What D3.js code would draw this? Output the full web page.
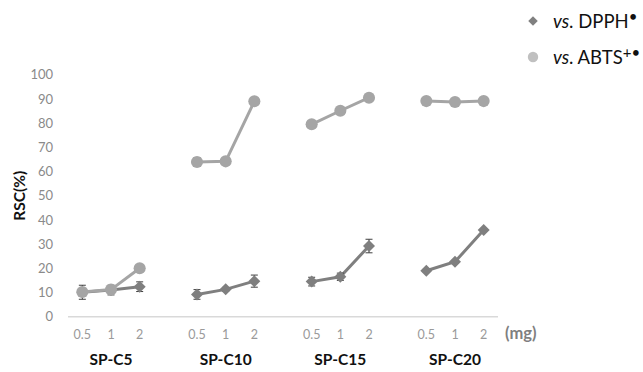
<!DOCTYPE html>
<html>
<head>
<meta charset="utf-8">
<script src="https://cdn.jsdelivr.net/npm/d3@7"></script>
<style>
  body { margin: 0; background: #fff; }
  svg { display: block; font-family: Lato, "Open Sans", sans-serif; }
</style>
</head>
<body>
<svg id="chart" width="643" height="372"></svg>
<script>
// groups and doses along the x axis
const groups = ["SP-C5", "SP-C10", "SP-C15", "SP-C20"];
const doses = ["0.5", "1", "2"];
const yTicks = [0, 10, 20, 30, 40, 50, 60, 70, 80, 90, 100];

// RSC (%) per group, per dose
const dpph = [[10.1, 11.0, 12.4], [9.2, 11.3, 14.7], [14.5, 16.5, 29.2], [19.0, 22.7, 35.8]];
const dpphErr = [[2.9, 2.0, 2.0], [2.0, 0.8, 2.5], [1.8, 1.5, 2.8], [0.6, 0.6, 0.6]];
const abts = [[10.2, 11.2, 20.0], [63.9, 64.2, 89.0], [79.5, 85.1, 90.5], [89.1, 88.7, 89.1]];
const abtsErr = [[0, 0, 0], [1.8, 0, 0], [0, 0, 0], [0, 0, 0]];

const svg = d3.select("#chart");
const margin = { left: 68, right: 145, top: 74.7, bottom: 55.3 };
const W = 643, H = 372;

// * slots: three doses per group with an empty slot between groups
const slots = [];
groups.forEach((g, gi) => {
  doses.forEach((d) => slots.push(g + "|" + d));
  if (gi < groups.length - 1) slots.push("gap" + gi);
});

const x = d3.scaleBand().domain(slots).range([margin.left, W - margin.right]);
const y = d3.scaleLinear().domain([0, 100]).range([H - margin.bottom, margin.top]);
const cx = (key) => x(key) + x.bandwidth() / 2;

// * y axis labels
svg.append("g")
  .selectAll("text")
  .data(yTicks)
  .enter()
  .append("text")
  .attr("x", 53)
  .attr("y", (d) => y(d))
  .attr("dy", "0.36em")
  .attr("text-anchor", "end")
  .style("font-size", "13px")
  .style("fill", "#8a8a8a")
  .text((d) => d);

// * x axis line
svg.append("line")
  .attr("x1", margin.left).attr("x2", W - margin.right)
  .attr("y1", y(0)).attr("y2", y(0))
  .style("stroke", "#d9d9d9")
  .style("stroke-width", 1.5);

// * dose labels and group labels
groups.forEach((g) => {
  doses.forEach((d) => {
    svg.append("text")
      .attr("x", cx(g + "|" + d))
      .attr("y", 339)
      .attr("text-anchor", "middle")
      .style("font-size", "12.5px")
      .style("fill", "#9a9a9a")
      .text(d);
  });
  svg.append("text")
    .attr("x", cx(g + "|1"))
    .attr("y", 365)
    .attr("text-anchor", "middle")
    .style("font-size", "15.5px")
    .style("font-weight", "bold")
    .style("fill", "#111")
    .text(g);
});

svg.append("text")
  .attr("x", 505).attr("y", 339)
  .style("font-size", "16.5px")
  .style("font-weight", "bold")
  .style("fill", "#7f7f7f")
  .text("(mg)");

svg.append("text")
  .attr("transform", `translate(25,${(y(0) + y(100)) / 2}) rotate(-90)`)
  .attr("text-anchor", "middle")
  .style("font-size", "15.5px")
  .style("font-weight", "bold")
  .style("fill", "#111")
  .text("RSC(%)");

// * build point lists
const toPoints = (vals, errs) =>
  groups.map((g, gi) => doses.map((d, di) => ({ key: g + "|" + d, v: vals[gi][di], e: errs[gi][di] })));

const series = [
  { pts: toPoints(dpph, dpphErr), color: "#7f7f7f", shape: d3.symbolSquare, size: 72, rot: 45 },
  { pts: toPoints(abts, abtsErr), color: "#a5a5a5", shape: d3.symbolCircle, size: 115, rot: 0 },
];

const line = d3.line().x((p) => cx(p.key)).y((p) => y(p.v));

series.forEach((s) => {
  const layer = svg.append("g");
  layer.selectAll("path.line")
    .data(s.pts)
    .enter()
    .append("path")
    .attr("d", line)
    .style("fill", "none")
    .style("stroke", s.color)
    .style("stroke-width", 3);

  const flat = s.pts.flat().filter((p) => p.e > 0);
  const eb = layer.selectAll("g.err").data(flat).enter().append("g");
  eb.append("line")
    .attr("x1", (p) => cx(p.key)).attr("x2", (p) => cx(p.key))
    .attr("y1", (p) => y(p.v - p.e)).attr("y2", (p) => y(p.v + p.e))
    .style("stroke", "#404040").style("stroke-width", 1);
  [-1, 1].forEach((sgn) => {
    eb.append("line")
      .attr("x1", (p) => cx(p.key) - 3.5).attr("x2", (p) => cx(p.key) + 3.5)
      .attr("y1", (p) => y(p.v + sgn * p.e)).attr("y2", (p) => y(p.v + sgn * p.e))
      .style("stroke", "#404040").style("stroke-width", 1);
  });

  layer.selectAll("path.mark")
    .data(s.pts.flat())
    .enter()
    .append("path")
    .attr("d", d3.symbol().type(s.shape).size(s.size))
    .attr("transform", (p) => `translate(${cx(p.key)},${y(p.v)}) rotate(${s.rot})`)
    .style("fill", s.color);
});

// * legend
const legend = svg.append("g");
const legendItems = [
  { shape: d3.symbolSquare, size: 45, rot: 45, color: "#808080", y: 21, name: "DPPH", sup: "•" },
  { shape: d3.symbolCircle, size: 85, rot: 0, color: "#c0c0c0", y: 57, name: "ABTS", sup: "+•" },
];
legendItems.forEach((it) => {
  legend.append("path")
    .attr("d", d3.symbol().type(it.shape).size(it.size))
    .attr("transform", `translate(533,${it.y}) rotate(${it.rot})`)
    .style("fill", it.color);
  const t = legend.append("text")
    .attr("x", 553)
    .attr("y", it.y + 7)
    .style("font-size", "18.5px")
    .style("fill", "#111");
  t.append("tspan").style("font-style", "italic").text("vs");
  t.append("tspan").text(". " + it.name);
  t.append("tspan").attr("dy", "-0.4em").style("font-size", "15px").text(it.sup);
});
</script>
</body>
</html>
